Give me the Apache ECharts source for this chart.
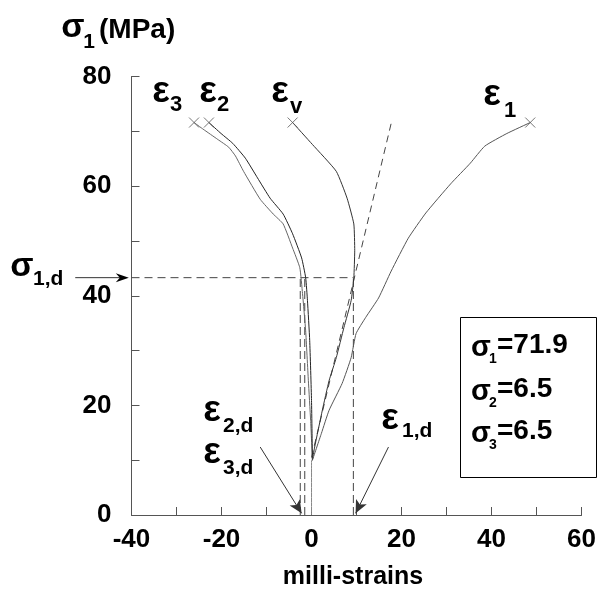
<!DOCTYPE html>
<html><head><meta charset="utf-8">
<script src="https://cdn.jsdelivr.net/npm/echarts@6/dist/echarts.min.js"></script>
<style>html,body{margin:0;padding:0;background:#fff}#c{width:599px;height:592px}</style>
</head><body><div id="c"></div>
<script>
// ---- data ----
const xRange = [-40, 60];
const yRange = [0, 80];
const eps1 = [[0.2,10.0],[2.2,14.9],[3.9,19.1],[6.8,24.0],[8.8,28.7],[9.9,33.1],[12.0,36.0],[14.9,39.6],[17.7,44.5],[21.5,50.5],[25.4,55.1],[30.9,60.4],[35.3,64.2],[38.5,67.3],[43.4,69.6],[48.6,71.6]];
const epsV = [[0.2,10.0],[0.7,12.4],[2.4,19.1],[3.9,24.5],[5.5,28.7],[7.2,34.2],[8.8,39.1],[9.4,43.3],[9.6,48.2],[9.4,53.1],[7.9,57.8],[5.5,62.7],[0.2,67.6],[-4.2,71.6]];
const eps2 = [[0.2,10.0],[0.0,20.9],[-0.4,31.8],[-0.9,39.1],[-1.3,43.3],[-2.2,46.9],[-4.2,51.3],[-6.3,54.9],[-9.2,57.8],[-12.0,61.5],[-14.7,65.1],[-17.5,67.8],[-20.1,69.6],[-22.8,71.6]];
const eps3 = [[0.2,10.0],[-0.2,17.3],[-0.7,24.5],[-1.3,33.6],[-2.0,40.4],[-2.6,45.1],[-4.2,48.7],[-6.3,53.1],[-8.5,54.9],[-11.4,57.6],[-15.1,62.7],[-16.9,65.5],[-18.4,67.1],[-20.8,68.5],[-24.1,70.4],[-26.1,71.6]];
const hydro = [[0,0],[0,10]];
const tangent = [[0,10.5],[17.8,71.8]];
const sigma1d = 43.3;
const eps1d = 9.3;
const eps2d = -1.5;
const eps3d = -2.5;
const arrowSigma = [[-52.5,43.3],[-40.6,43.3]];
const arrowEps23 = [[-11.4,12.4],[-2.2,0.3]];
const arrowEps1 = [[17.1,12.4],[9.8,0.3]];
const boxLines = [['1','=71.9'],['2','=6.5'],['3','=6.5']];

const FONT = 'Liberation Sans, Arial, sans-serif';
const chart = echarts.init(document.getElementById('c'));

function dashed(data, dash) {
  return {type:'line', data, showSymbol:false, silent:true, animation:false,
    lineStyle:{color:'#444', width:1, type:dash||[8,5]}, z:2};
}
function curve(data, color) {
  return {type:'line', data, showSymbol:false, silent:true, animation:false, smooth:0.15,
    lineStyle:{color, width:1}, z:3};
}
const ends = [eps3, eps2, epsV, eps1].map(a => a[a.length-1]);

function txt(x, y, s, size, align, extra) {
  return Object.assign({type:'text', x, y, silent:true, style:{text:s, fontSize:size, fontWeight:'bold',
    fontFamily:FONT, fill:'#000', textAlign:align||'center', textVerticalAlign:'middle'}}, extra||{});
}
const graphics = [
  txt(73,28,'σ',34), txt(89,42,'1',21), txt(99,30,'(MPa)',28,'left'),
  txt(161,92,'ε',37), txt(176,105,'3',22),
  txt(208,92,'ε',37), txt(223,105,'2',22),
  txt(280,92,'ε',37), txt(296,107,'v',22),
  txt(492,95,'ε',37), txt(510,111,'1',22),
  txt(22,267,'σ',34), txt(33,279,'1,d',21,'left'),
  txt(212,411,'ε',37), txt(223,426,'2,d',21,'left'),
  txt(212,453,'ε',37), txt(223,468,'3,d',21,'left'),
  txt(390,419,'ε',37), txt(402,431,'1,d',21,'left'),
  txt(353,577,'milli-strains',25),
  {type:'rect', shape:{x:460.5,y:317.5,width:136,height:160}, style:{fill:'none',stroke:'#000',lineWidth:1}, silent:true}
];
const boxY = [345, 389, 431];
boxLines.forEach((l,i) => {
  graphics.push(txt(481, boxY[i]+3, 'σ', 29));
  graphics.push(txt(493, boxY[i]+14, l[0], 14));
  graphics.push(txt(497, boxY[i], l[1], 28, 'left'));
});

chart.setOption({
  animation:false,
  grid:{left:131.5, right:13.5, top:76.5, bottom:77, containLabel:false},
  xAxis:{type:'value', min:xRange[0], max:xRange[1], interval:10,
    axisLine:{show:true, onZero:false, lineStyle:{color:'#555', width:1}},
    axisTick:{show:true, inside:true, length:8, lineStyle:{color:'#555'}},
    axisLabel:{formatter:v => (v%20===0 ? String(v) : ''), fontSize:26, fontWeight:'bold', color:'#000', fontFamily:FONT, margin:12},
    splitLine:{show:false}},
  yAxis:{type:'value', min:yRange[0], max:yRange[1], interval:10,
    axisLine:{show:true, onZero:false, lineStyle:{color:'#555', width:1}},
    axisTick:{show:true, inside:true, length:8, lineStyle:{color:'#555'}},
    axisLabel:{formatter:v => (v%20===0 ? String(v) : ''), fontSize:26, fontWeight:'bold', color:'#000', fontFamily:FONT, margin:20},
    splitLine:{show:false}},
  graphic: graphics,
  series:[
    curve(hydro,'#888'),
    dashed([[xRange[0],sigma1d],[eps1d,sigma1d]],[8,5]),
    dashed([[eps1d,0],[eps1d,sigma1d]],[8,4]),
    dashed([[eps2d,0],[eps2d,sigma1d]],[8,4]),
    dashed([[eps3d,0],[eps3d,sigma1d]],[8,4]),
    dashed(tangent,[7,5]),
    curve(eps3,'#666'),
    curve(eps2,'#222'),
    curve(epsV,'#333'),
    curve(eps1,'#555'),
    {type:'scatter', data:ends, symbol:'path://M0,0L10,10M10,0L0,10', symbolSize:10, silent:true,
      itemStyle:{color:'none', borderColor:'#555', borderWidth:1}, z:4},
    {type:'line', data:[], silent:true,
      markLine:{silent:true, animation:false, symbol:['none','arrow'], symbolSize:[9,13],
        label:{show:false}, lineStyle:{color:'#333', width:1, type:'solid'},
        data:[arrowEps23, arrowEps1].map(a => [{coord:a[0]},{coord:a[1]}])}}
  ]
});

// sigma_1,d arrow lies outside the grid: place it through the axis scales
const p0 = chart.convertToPixel({gridIndex:0}, arrowSigma[0]);
const p1 = chart.convertToPixel({gridIndex:0}, arrowSigma[1]);
graphics.push({type:'line', silent:true, shape:{x1:p0[0], y1:p0[1], x2:p1[0]-6, y2:p1[1]}, style:{stroke:'#333', lineWidth:1}});
graphics.push({type:'polygon', silent:true, shape:{points:[[p1[0],p1[1]],[p1[0]-13,p1[1]-4.5],[p1[0]-9,p1[1]],[p1[0]-13,p1[1]+4.5]]}, style:{fill:'#000'}});
chart.setOption({graphic: graphics});
</script></body></html>
